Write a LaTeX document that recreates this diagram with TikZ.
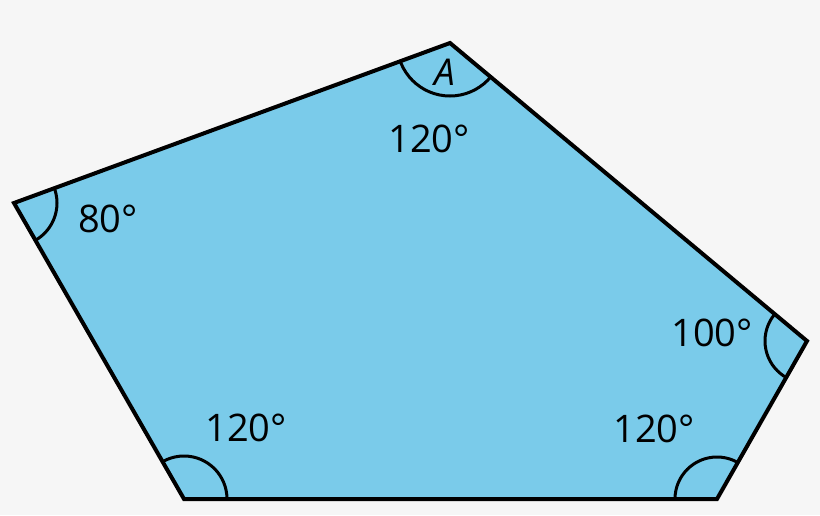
\documentclass[tikz,border=0pt]{standalone}
\usepackage{fontspec}
\setmainfont{Open Sans}
\definecolor{bg}{HTML}{F6F6F6}
\definecolor{polyfill}{HTML}{7ACBEA}
\begin{document}
\begin{tikzpicture}[x=1pt,y=-1pt,
  anglelabel/.style={font=\fontsize{38}{40}\selectfont, inner sep=0pt, anchor=center},
  anglearc/.style={line width=3pt, draw=black},
  edge/.style={line width=4pt, line join=miter}]
\fill[bg] (0,0) rectangle (820,515);
\useasboundingbox (0,0) rectangle (820,515);
\coordinate (T) at (450,43);
\coordinate (L) at (14,203);
\coordinate (BL) at (184,499);
\coordinate (BR) at (717,499);
\coordinate (R) at (807,341);
\fill[polyfill] (T) -- (R) -- (BR) -- (BL) -- (L) -- cycle;
\begin{scope}
  \clip (T) -- (R) -- (BR) -- (BL) -- (L) -- cycle;
  \draw[anglearc] (T) circle[radius=53];
  \draw[anglearc] (L) circle[radius=43];
  \draw[anglearc] (R) circle[radius=42];
  \draw[anglearc] (BR) circle[radius=42];
  \draw[anglearc] (BL) circle[radius=43];
\end{scope}
\draw[edge] (T) -- (R) -- (BR) -- (BL) -- (L) -- cycle;
\node[anglelabel] (a1) at (429,139) {120°};
\node[anglelabel] (a2) at (108,219) {80°};
\node[anglelabel] (a3) at (712,333) {100°};
\node[anglelabel] (a4) at (654,429) {120°};
\node[anglelabel] (a5) at (246,428) {120°};
\node[font=\fontsize{37}{40}\selectfont\itshape, inner sep=0pt] (lblA) at (445,72) {A};
\end{tikzpicture}
\end{document}
